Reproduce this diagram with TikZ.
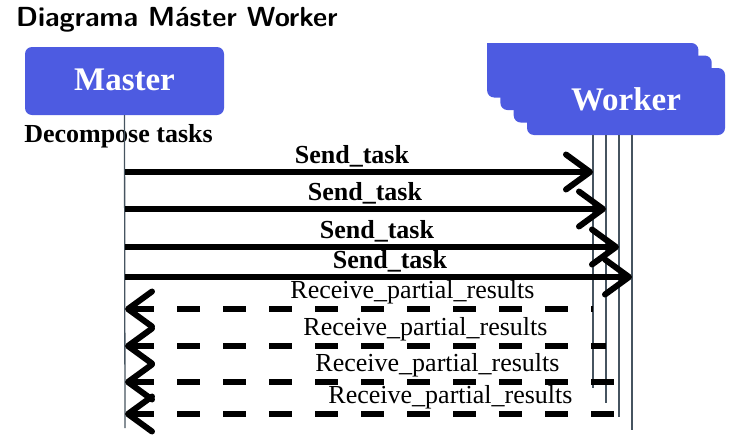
\documentclass[tikz,border=0pt]{standalone}
\usepackage{fontspec}
\setmainfont{Liberation Serif}
\usetikzlibrary{arrows.meta}
\definecolor{boxblue}{RGB}{77,91,225}
\definecolor{lifegray}{RGB}{70,84,96}
\tikzset{
  actor/.style={fill=boxblue, rounded corners=7pt, text=white, inner sep=0pt,
    font=\fontsize{33}{33}\selectfont\bfseries,
    minimum width=198pt, minimum height=67pt},
  life/.style={draw=lifegray, line width=1.3pt},
  send/.style={line width=6pt, -{Straight Barb[length=24pt,width=35pt,round]}},
  recv/.style={line width=6pt, dash pattern=on 23pt off 23pt,
    {Straight Barb[length=24pt,width=35pt,round]}-},
  msg/.style={anchor=base, inner sep=0pt, font=\fontsize{26}{26}\selectfont},
  boldmsg/.style={msg, font=\fontsize{26}{26}\selectfont\bfseries}
}
\begin{document}
\begin{tikzpicture}[x=1pt,y=-1pt]
    \useasboundingbox (0,0) rectangle (733,442);
    \node [anchor=base west, inner sep=0pt, font=\sffamily\bfseries\fontsize{27.6}{27.6}\selectfont] (title) at (16,26) {Diagrama Máster Worker};
    % stacked copies behind the worker
    \begin{scope}
        \clip (0,43) rectangle (733,442);
        \foreach \k in {3,2,1}
            \fill [boxblue, rounded corners=7pt, shift={(-13.3*\k,-12.5*\k)}] (527,68) rectangle (725,135);
    \end{scope}
    \node [actor, minimum width=199pt, minimum height=68pt] (master) at (124.5,81) {\raisebox{3.5pt}{Master}};
    \node [actor] (worker) at (626,101.5) {\raisebox{4pt}{Worker}};
    \node [boldmsg] (decomp) at (118.5,142) {Decompose tasks};
    % lifelines
    \coordinate (mend) at (125,428);
    \draw [life] (master.south) -- (mend);
    \foreach \i/\x/\e in {1/593/388, 2/606/403, 3/619/417, 4/632/430} {
        \coordinate (wtop\i) at (\x,135);
        \coordinate (wend\i) at (\x,\e);
        \draw [life] (wtop\i) -- (wend\i);
    }
    % messages
    \foreach \i/\y/\lx in {1/172/352, 2/209/365, 3/247/377, 4/277/390} {
        \draw [send] (mend |- 0,\y) -- (wtop\i |- 0,\y);
        \node [boldmsg] (send\i) at (\lx,{\y-9}) {Send\_task};
    }
    \foreach \i/\y/\lx in {1/309/412.5, 2/346/425.5, 3/382/437.5, 4/414/450.5} {
        \draw [recv] (mend |- 0,\y) -- (wtop\i |- 0,\y);
        \node [msg] (recv\i) at (\lx,{\y-11}) {Receive\_partial\_results};
    }
\end{tikzpicture}
\end{document}
